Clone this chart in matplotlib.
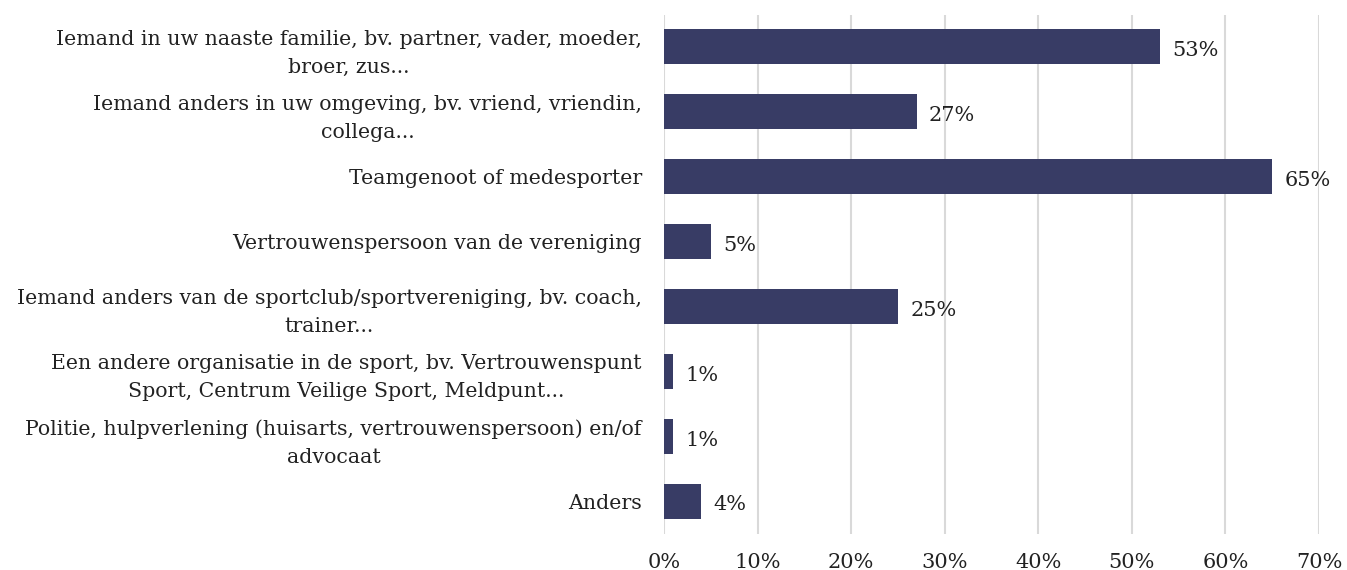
import numpy as np
import matplotlib.pyplot as plt
import matplotlib.transforms as mtransforms

# categories (top to bottom) and values in %
categories = [
    "Iemand in uw naaste familie, bv. partner, vader, moeder,\nbroer, zus...",
    "Iemand anders in uw omgeving, bv. vriend, vriendin,\ncollega...",
    "Teamgenoot of medesporter",
    "Vertrouwenspersoon van de vereniging",
    "Iemand anders van de sportclub/sportvereniging, bv. coach,\ntrainer...",
    "Een andere organisatie in de sport, bv. Vertrouwenspunt\nSport, Centrum Veilige Sport, Meldpunt...",
    "Politie, hulpverlening (huisarts, vertrouwenspersoon) en/of\nadvocaat",
    "Anders",
]
values = [53, 27, 65, 5, 25, 1, 1, 4]
xticks = [0, 10, 20, 30, 40, 50, 60, 70]

bar_color = '#383c65'
plt.rcParams['font.family'] = ['DejaVu Serif']

fig = plt.figure(figsize=(13.47, 5.7), dpi=100)
ax = fig.add_axes([664 / 1347, 1 - 533.5 / 570, (1319 - 664) / 1347, 519 / 570])

y = np.arange(len(categories))
ax.barh(y, values, height=0.54, color=bar_color, zorder=3)

for yi, v in zip(y, values):
    ax.text(v + 1.3, yi + 0.06, f"{v}%", va='center', ha='left',
            fontsize=15, color='#222222')

ax.set_xlim(0, 70)
ax.set_ylim(len(categories) - 0.5, -0.5)
ax.set_yticks(y)
ax.set_yticklabels(categories, fontsize=14.8, linespacing=1.6, ha='right',
                   multialignment='center', color='#222222')
# nudge multi-line labels up a little so they sit centred on the bars
shift = mtransforms.ScaledTranslation(0, 3 / 72, fig.dpi_scale_trans)
for lab in ax.get_yticklabels():
    if '\n' in lab.get_text():
        lab.set_transform(lab.get_transform() + shift)
ax.set_xticks(xticks)
ax.set_xticklabels([f"{t}%" for t in xticks], fontsize=15, color='#222222')
ax.tick_params(axis='y', length=0, pad=16)
ax.tick_params(axis='x', length=0, pad=14)

ax.grid(axis='x', color='#d9d9d9', linewidth=1.5, zorder=0)
for s in ax.spines.values():
    s.set_visible(False)

fig.savefig('out.png', dpi=100)
